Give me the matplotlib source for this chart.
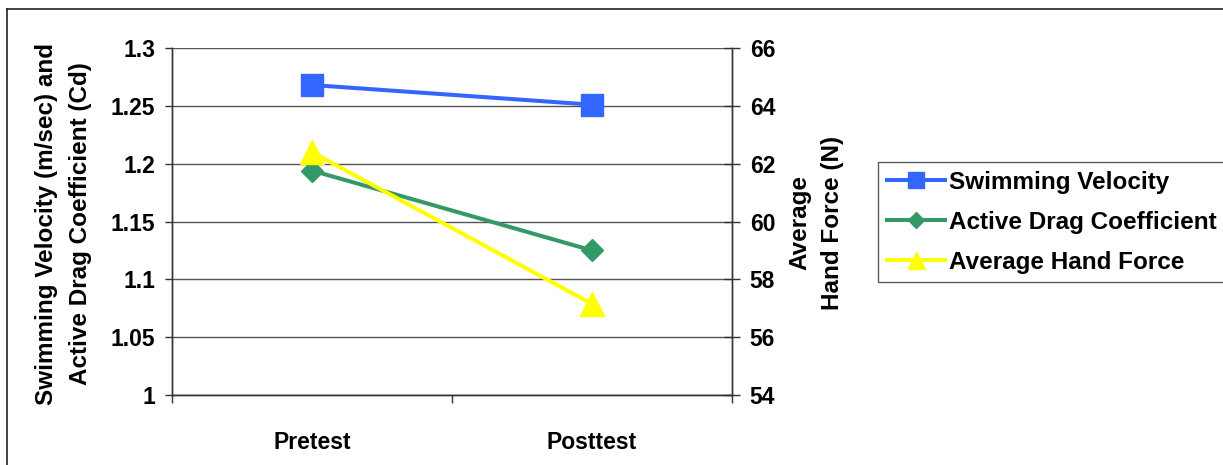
import matplotlib
matplotlib.use("Agg")
import matplotlib.pyplot as plt
from matplotlib.lines import Line2D

categories = ["Pretest", "Posttest"]
swimming_velocity = [1.268, 1.251]
active_drag = [1.194, 1.125]
hand_force = [62.4, 57.15]
left_ticks = [1, 1.05, 1.1, 1.15, 1.2, 1.25, 1.3]
left_labels = ["1", "1.05", "1.1", "1.15", "1.2", "1.25", "1.3"]
right_ticks = [54, 56, 58, 60, 62, 64, 66]

plt.rcParams['font.family'] = ['Liberation Sans', 'DejaVu Sans']
plt.rcParams['font.weight'] = 'bold'

W, H = 1223, 465
fig = plt.figure(figsize=(W / 100, H / 100), dpi=100)
ax = fig.add_axes([172 / W, 1 - 395 / H, (732 - 172) / W, (395 - 48) / H])
ax2 = ax.twinx()

xpos = [0.5, 1.5]
blue = "#3366FF"
green = "#339966"
yellow = "#FFFF00"

l1, = ax.plot(xpos, swimming_velocity, color=blue, lw=2.9, marker='s', ms=15.8,
              mec=blue, mfc=blue, label="Swimming Velocity", zorder=3)
l2, = ax.plot(xpos, active_drag, color=green, lw=2.9, marker='D', ms=11.5,
              mec=green, mfc=green, label="Active Drag Coefficient", zorder=3)
l3, = ax2.plot(xpos, hand_force, color=yellow, lw=2.9, marker='^', ms=17,
               mec=yellow, mfc=yellow, label="Average Hand Force", zorder=3)

ax.set_xlim(0, 2)
ax.set_ylim(1, 1.3)
ax2.set_ylim(54, 66)

ax.set_yticks(left_ticks)
ax.set_yticklabels(left_labels)
ax2.set_yticks(right_ticks)
ax2.set_yticklabels([str(t) for t in right_ticks])

ax.set_xticks([0, 1, 2])
ax.set_xticklabels(["", "", ""])
ax.set_xticks(xpos, minor=True)
ax.set_xticklabels(categories, minor=True)
ax.tick_params(axis='x', which='major', direction='out', length=6, width=1, color='#333333')
ax.tick_params(axis='x', which='minor', length=0, pad=26, labelsize=16.5)
ax.tick_params(axis='y', direction='out', length=5, width=1, color='#333333', pad=7, labelsize=16.5)
ax2.tick_params(axis='y', direction='inout', length=11.5, width=1, color='#333333', pad=7, labelsize=16.5)

ax.grid(axis='y', color='#555555', lw=1.0)
ax.set_axisbelow(True)
for a in (ax, ax2):
    a.spines['top'].set_visible(False)
    for s in ('left', 'right', 'bottom'):
        a.spines[s].set_color('#333333')
        a.spines[s].set_linewidth(1.0)

# axis titles
fs_lab = 17.5
fig.text(47 / W, 1 - 224 / H, "Swimming Velocity (m/sec) and", rotation=90,
         ha='center', va='center', fontsize=fs_lab, fontweight='bold')
fig.text(81 / W, 1 - 224 / H, "Active Drag Coefficient (Cd)", rotation=90,
         ha='center', va='center', fontsize=fs_lab, fontweight='bold')
fig.text(800 / W, 1 - 222 / H, "Average", rotation=90,
         ha='center', va='center', fontsize=fs_lab, fontweight='bold')
fig.text(832 / W, 1 - 223 / H, "Hand Force (N)", rotation=90,
         ha='center', va='center', fontsize=fs_lab, fontweight='bold')

leg = fig.legend(handles=[l1, l2, l3], loc='upper left',
                 bbox_to_anchor=(878 / W, 1 - 162 / H), borderaxespad=0,
                 fontsize=17.5, frameon=True, fancybox=False, edgecolor='#333333',
                 handlelength=2.4, handletextpad=0.16, labelspacing=0.70,
                 borderpad=0.35, markerscale=0.72)
leg.get_frame().set_linewidth(1.0)

# outer chart border (left and top visible)
fig.add_artist(Line2D([7 / W, 7 / W], [0, 1 - 9 / H], transform=fig.transFigure,
                      color='#222222', lw=1.2))
fig.add_artist(Line2D([7 / W, 1], [1 - 9 / H, 1 - 9 / H], transform=fig.transFigure,
                      color='#222222', lw=1.2))

fig.savefig("out.png", dpi=100)
